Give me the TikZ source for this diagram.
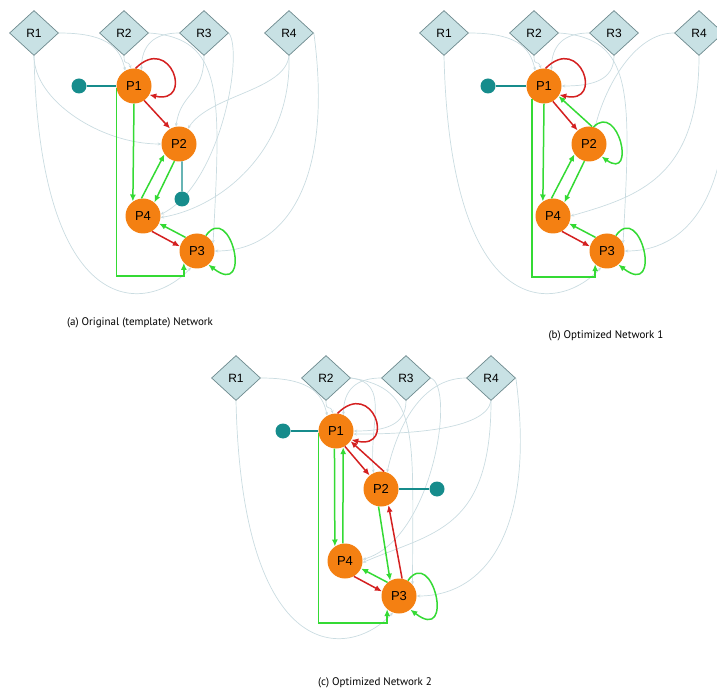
\documentclass[tikz,border=0pt]{standalone}
\usepackage{fontspec}
\usetikzlibrary{shapes.geometric,arrows.meta,calc}
\newfontfamily\lsans{Liberation Sans}
\newfontfamily\capfont{PT Sans}
\definecolor{porange}{RGB}{244,128,18}
\definecolor{tealc}{RGB}{22,140,140}
\definecolor{rfill}{RGB}{200,225,228}
\definecolor{rborder}{RGB}{110,138,142}
\definecolor{greenc}{RGB}{52,218,52}
\definecolor{redc}{RGB}{212,32,32}
\definecolor{faintc}{RGB}{202,220,225}
\pgfdeclarelayer{bg}
\pgfsetlayers{bg,main}
\tikzset{
  rnode/.style={diamond, draw=rborder, fill=rfill, line width=0.7pt, minimum width=49pt, minimum height=45pt, inner sep=0pt, font=\lsans\fontsize{12}{12}\selectfont},
  pnode/.style={circle, fill=porange, minimum size=35pt, inner sep=0pt, font=\lsans\fontsize{13}{13}\selectfont},
  tdot/.style={circle, fill=tealc, minimum size=15pt, inner sep=0pt},
  tline/.style={draw=tealc, line width=1.3pt},
  redge/.style={draw=redc, line width=1.5pt, -{Latex[length=7pt,width=6pt]}},
  gedge/.style={draw=greenc, line width=1.5pt, -{Latex[length=7pt,width=6pt]}},
  fedge/.style={draw=faintc, line width=0.7pt, -{Stealth[length=3.5pt,width=3pt]}},
  captext/.style={font=\capfont\fontsize{11}{12}\selectfont, inner sep=0pt},
}
\newcommand\mknodes[1]{%
  \node[rnode] (#1R1) at (34,33) {R1};
  \node[rnode] (#1R2) at (124,33) {R2};
  \node[rnode] (#1R3) at (204,33) {R3};
  \node[rnode] (#1R4) at (289,33) {R4};
  \node[pnode] (#1P1) at (134,86) {P1};
  \node[pnode] (#1P2) at (179,144) {P2};
  \node[pnode] (#1P4) at (143,216) {P4};
  \node[pnode] (#1P3) at (197,251) {P3};
}
\begin{document}
\begin{tikzpicture}[x=1pt,y=-1pt]
\useasboundingbox (0,0) rectangle (717,692);

% ---------------- panel (a)
\begin{scope}
\mknodes{a}
\node[tdot] (aD1) at (79,86) {};
\node[tdot] (aD2) at (182,199) {};
\coordinate (aB) at (0,276);
\draw[tline] (aD1) -- (aP1.west);
\draw[tline] (aP2.-80) -- (aD2);
\begin{pgfonlayer}{bg}
\draw[fedge] (aR1.east) .. controls +(45,0) and +(-5,-25) .. (aP1.120);
\draw[fedge] (aR2.south) .. controls +(0,12) and +(-3,-10) .. (aP1.100);
\draw[fedge] (aR3.west) .. controls +(-25,0) and +(0,-25) .. (aP1.65);
\draw[fedge] (aR1.south) .. controls +(0,45) and +(-60,0) .. (aP2.west);
\draw[fedge] (aR1.south) .. controls +(6,265) and +(-45,48) .. (aP3.250);
\draw[fedge] (aR2.east) .. controls +(75,5) and +(8,-150) .. (aP3.25);
\draw[fedge] (aR3.south) .. controls +(0,40) and +(5,-35) .. (aP2.100);
\draw[fedge] (aR3.east) .. controls +(15,20) and +(60,-30) .. (aP4.5);
\draw[fedge] (aR4.south) .. controls +(-4,35) and +(22,-34) .. (aP2.60);
\draw[fedge] (aR4.south) .. controls +(3,95) and +(60,-10) .. (aP4.-5);
\draw[fedge] (aR4.east) .. controls +(20,150) and +(70,0) .. (aP3.east);
\end{pgfonlayer}
\draw[redge] (aP1.85) .. controls +(35,-35) and +(45,10) .. (aP1.-30);
\draw[redge] (aP1.305) -- (aP2.120);
\draw[gedge] (aP1.270) -- (aP4.125);
\draw[gedge] (aP4.95) -- (aP2.215);
\draw[gedge] (aP2.255) -- (aP4.50);
\draw[redge] (aP4.300) -- (aP3.165);
\draw[gedge] (aP3.130) -- (aP4.335);
\draw[gedge] (aP3.60) .. controls +(25,-35) and +(45,35) .. (aP3.-50);
\draw[gedge] (aP1.188) -- (aP1.188 |- aB) -| (aP3.222);
\end{scope}

% ---------------- panel (b)
\begin{scope}[shift={(410,0)}]
\mknodes{b}
\node[tdot] (bD1) at (78,86) {};
\coordinate (bB) at (0,277);
\draw[tline] (bD1) -- (bP1.west);
\begin{pgfonlayer}{bg}
\draw[fedge] (bR1.east) .. controls +(45,0) and +(-5,-25) .. (bP1.120);
\draw[fedge] (bR2.south) .. controls +(0,12) and +(-3,-10) .. (bP1.100);
\draw[fedge] (bR1.south) .. controls +(6,265) and +(-45,48) .. (bP3.250);
\draw[fedge] (bR2.east) .. controls +(75,5) and +(8,-150) .. (bP3.25);
\draw[fedge] (bR3.west) .. controls +(-25,0) and +(0,-25) .. (bP1.65);
\draw[fedge] (bR3.south) .. controls +(0,25) and +(30,0) .. (bP1.east);
\draw[fedge] (bR4.west) .. controls +(-40,0) and +(10,-40) .. (bP2.70);
\draw[fedge] (bR4.south) .. controls +(0,120) and +(70,-20) .. (bP4.east);
\draw[fedge] (bR4.east) .. controls +(15,150) and +(70,0) .. (bP3.east);
\end{pgfonlayer}
\draw[redge] (bP1.85) .. controls +(35,-35) and +(45,10) .. (bP1.-30);
\draw[redge] (bP1.300) -- (bP2.130);
\draw[gedge] (bP2.80) -- (bP1.325);
\draw[gedge] (bP2.75) .. controls +(25,-25) and +(35,25) .. (bP2.-45);
\draw[gedge] (bP1.270) -- (bP4.125);
\draw[gedge] (bP4.95) -- (bP2.215);
\draw[gedge] (bP2.255) -- (bP4.50);
\draw[redge] (bP4.300) -- (bP3.165);
\draw[gedge] (bP3.130) -- (bP4.335);
\draw[gedge] (bP3.60) .. controls +(25,-35) and +(45,35) .. (bP3.-50);
\draw[gedge] (bP1.228) -- (bP1.228 |- bB) -| (bP3.228);
\end{scope}

% ---------------- panel (c)
\begin{scope}[shift={(202,345)}]
\mknodes{c}
\node[tdot] (cD1) at (81,86) {};
\node[tdot] (cD2) at (235,144) {};
\coordinate (cB) at (0,278);
\draw[tline] (cD1) -- (cP1.west);
\draw[tline] (cP2.east) -- (cD2);
\begin{pgfonlayer}{bg}
\draw[fedge] (cR1.east) .. controls +(45,0) and +(-5,-25) .. (cP1.120);
\draw[fedge] (cR1.south) .. controls +(6,265) and +(-45,48) .. (cP3.250);
\draw[fedge] (cR2.south) .. controls +(0,12) and +(-3,-10) .. (cP1.100);
\draw[fedge] (cR2.east) .. controls +(40,5) and +(-5,-50) .. (cP2.115);
\draw[fedge] (cR2.east) .. controls +(70,10) and +(0,-150) .. (cP3.40);
\draw[fedge] (cR3.west) .. controls +(-25,0) and +(0,-25) .. (cP1.65);
\draw[fedge] (cR3.south) .. controls +(0,25) and +(30,0) .. (cP1.east);
\draw[fedge] (cR3.east) .. controls +(25,10) and +(70,-20) .. (cP4.5);
\draw[fedge] (cR4.west) .. controls +(-45,0) and +(10,-45) .. (cP2.70);
\draw[fedge] (cR4.south) .. controls +(-5,30) and +(50,0) .. (cP1.-10);
\draw[fedge] (cR4.south) .. controls +(0,130) and +(70,-30) .. (cP4.-5);
\draw[fedge] (cR4.east) .. controls +(20,150) and +(70,0) .. (cP3.east);
\end{pgfonlayer}
\draw[redge] (cP1.85) .. controls +(35,-35) and +(45,10) .. (cP1.-30);
\draw[redge] (cP1.300) -- (cP2.130);
\draw[redge] (cP2.80) -- (cP1.325);
\draw[gedge] (cP1.265) -- (cP4.125);
\draw[gedge] (cP4.97) -- (cP1.294);
\draw[gedge] (cP2.262) -- (cP3.120);
\draw[redge] (cP3.80) -- (cP2.295);
\draw[redge] (cP4.300) -- (cP3.165);
\draw[gedge] (cP3.130) -- (cP4.335);
\draw[gedge] (cP3.60) .. controls +(25,-35) and +(45,35) .. (cP3.-50);
\draw[gedge] (cP1.188) -- (cP1.188 |- cB) -| (cP3.228);
\end{scope}

% ---------------- captions
\node[captext] (capa) at (140,323) {(a) Original (template) Network};
\node[captext] (capb) at (606,336) {(b) Optimized Network 1};
\node[captext] (capc) at (375,683) {(c) Optimized Network 2};
\end{tikzpicture}
\end{document}
